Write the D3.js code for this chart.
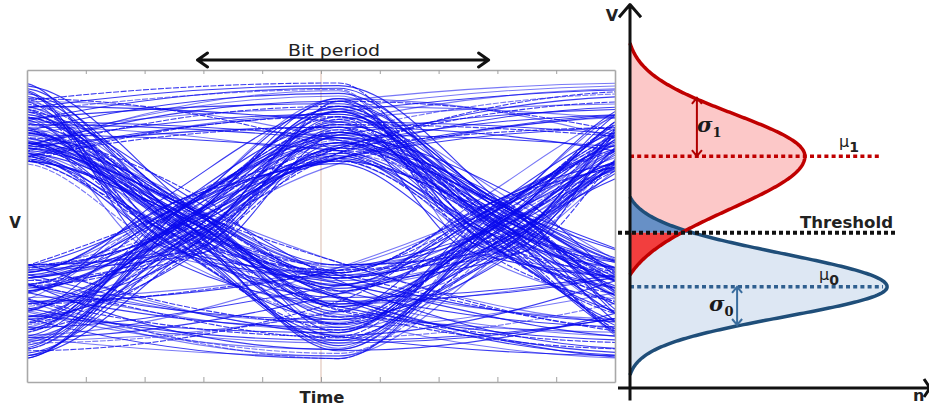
<!DOCTYPE html>
<html><head><meta charset="utf-8">
<script src="https://cdn.jsdelivr.net/npm/d3@7"></script>
<style>body{margin:0;background:#fff}svg{display:block}</style>
</head><body>
<svg id="c" width="929" height="409"></svg>
<script>
// ---------- Eye diagram data ----------
// received voltage at the centre of each successive bit (V)
const bitLevels = [
  0.84,-0.45,-0.80, 0.60, 0.96,-0.32, 0.72,-0.65,-0.95, 0.52, 0.88, 1.05,
 -0.36, 0.64,-0.55,-0.85, 0.76,-0.40, 0.56, 0.92,-0.70,-1.02, 0.48,-0.50,
  0.80, 0.68,-0.28,-0.75, 0.60, 1.00,-0.45, 0.84,-0.60, 0.52,-0.90,-0.65,
  0.72,-0.38, 0.96, 1.10,-0.55,-0.32, 0.64,-0.80, 0.88,-0.42,-0.95, 0.56,
 -0.70, 0.76, 0.52,-0.36,-0.85,-1.00, 0.68,-0.50, 0.92, 0.80,-0.30, 0.60,
 -0.62,-0.88, 0.48, 0.84,-0.40, 0.72,-0.75, 0.56, 1.04,-0.58,-0.34, 0.64,
 -0.92, 0.88,-0.46, 0.60, 0.76,-0.68,-0.82, 0.50,-0.38, 0.96,-0.55,-1.02,
  0.70, 0.58,-0.30, 0.82,-0.72, 0.54,-0.44,-0.86, 0.90, 1.08,-0.62, 0.66,
 -0.50,-0.78, 0.74,-0.36, 0.52, 0.86,-0.96,-0.58, 0.62,-0.40, 0.98,-0.70,
  0.56,-0.84,-0.32, 0.78, 0.66,-0.52, 0.90,-0.64,-0.90, 0.50,-0.46, 0.72,
  1.02,-0.38,-0.74, 0.58,-0.60, 0.82, 0.94,-0.28,-0.80, 0.68,-0.54,-0.98,
  0.62, 0.86,-0.42, 0.74,-0.88,-0.66, 0.54,-0.34, 0.80, 1.06,-0.76, 0.60,
 -0.48, 0.92,-0.60,-0.36, 0.70,-0.94, 0.52, 0.76,-0.44,-0.72, 0.88,-0.30,
  0.64,-0.82, 0.98, 0.58,-0.56,-1.00, 0.84,-0.40, 0.50,-0.66, 0.78,-0.86,
 -0.52, 0.70, 0.90,-0.34, 0.60,-0.78,-0.46, 0.96, 0.66,-0.62, 0.54,-0.92
];
// timing jitter of the edge leading into each bit (ps, bit period = 100 ps)
const edgeJitterPs = [
   4,-6, 2, 8,-2, 0,-8, 6,-4, 4,-2, 6,
  -6, 0, 8,-4, 2,-8, 4, 6, 0,-4, 8,-6,
   2, 4,-2, 6,-8, 0, 6, 2,-4, 8,-6,-2,
   4, 0, 8,-4,-8, 4, 6,-2, 0, 8,-6, 2,
  -4, 6, 2,-8, 0, 4,-2, 8, 2,-6, 6,-4,
   8, 0,-2,-6, 6, 2,-4, 4, 0,-8,-4, 6,
   4, 2,-8, 0, 6,-6, 8, 2, 0,-2,-6, 8,
   4,-4, 2, 6,-8, 4, 0,-2, 6,-6, 8, 0,
  -4, 8,-6, 2, 0, 6,-2, 4,-8, 2, 0,-4,
   6,-8, 4, 0, 8,-2,-6, 2, 4,-4, 6, 0,
  -2, 4, 8,-6, 2, 0,-4, 6,-8, 4, 2,-2,
   8,-4, 0, 4,-6, 2, 6,-8, 0, 4,-2, 6,
  -6, 2, 4,-4, 8, 0,-2, 6, 2,-8, 4, 0,
   2, 6,-4, 0,-6, 8, 4,-2, 0, 6,-8, 2,
  -2, 0, 6,-8, 4, 2,-6, 8,-4, 0, 2,-6
];
// voltage at which the edge leading into each bit crosses (V)
const edgeCrossV = [
  0.10,-0.05, 0.15,-0.15, 0.00, 0.20,-0.10, 0.05,-0.20, 0.10, 0.05,-0.05,
 -0.15, 0.20, 0.00,-0.10, 0.15,-0.20, 0.05, 0.10,-0.05, 0.00, 0.20,-0.15,
  0.05,-0.10, 0.20, 0.00,-0.15, 0.10,-0.05, 0.15,-0.20, 0.05, 0.00, 0.10,
 -0.20, 0.15,-0.05, 0.10, 0.00,-0.10, 0.20,-0.15, 0.05, 0.15,-0.05, 0.00,
  0.15,-0.20, 0.10, 0.05,-0.10, 0.00,-0.15, 0.20, 0.05,-0.05, 0.10,-0.20,
  0.00, 0.10,-0.15, 0.20,-0.05, 0.15, 0.05,-0.10, 0.00,-0.20, 0.15, 0.05,
 -0.10, 0.05, 0.15,-0.20, 0.10, 0.00,-0.05, 0.20,-0.15, 0.10,-0.10, 0.15,
  0.20,-0.15, 0.00, 0.05,-0.05, 0.10,-0.20, 0.15, 0.00,-0.10, 0.05,-0.05,
 -0.05, 0.15,-0.10, 0.00, 0.20,-0.15, 0.10,-0.20, 0.05, 0.15, 0.00,-0.10,
  0.10, 0.00,-0.20, 0.15,-0.10, 0.05, 0.20,-0.05, 0.10,-0.15, 0.00, 0.20,
 -0.15, 0.10, 0.05,-0.05, 0.15,-0.20, 0.00, 0.10,-0.10, 0.20,-0.05, 0.05,
  0.00,-0.10, 0.20,-0.15, 0.05, 0.10,-0.05, 0.00, 0.15,-0.20, 0.10,-0.15,
  0.15, 0.05,-0.05, 0.20,-0.20, 0.00, 0.10,-0.10, 0.05, 0.15,-0.15, 0.00,
 -0.20, 0.10, 0.00,-0.05, 0.15, 0.05,-0.15, 0.20,-0.10, 0.00, 0.05, 0.10,
  0.05,-0.15, 0.10, 0.00,-0.05, 0.20, 0.15,-0.20, 0.00, 0.10,-0.10, 0.05
];
const bitPeriodPs = 100;
const timeTicks = [0.1,0.2,0.3,0.4,0.5,0.6,0.7,0.8,0.9];
const bitPeriod = 0.54;          // in screen-time units (box = 1)
const firstBitCentre = -0.01;
const bitPeriodArrow = [0.29, 0.785];
const markerTime = 0.5;

// ---------- Distribution data ----------
const distNames = ["one","zero"];
const distMu = [0.644, 0.281];
const distSigmaUp = [0.117, 0.092];
const distSigmaDown = [0.147, 0.083];
const distPeak = [0.583, 0.857];
const distCutTop = [0.958, 0.531];
const distCutBottom = [0.314, 0.036];
const distMeanLineEnd = [0.84, 0.843];
const sigmaArrowN = [0.223, 0.357];
const sigmaArrowEnd = [0.806, 0.175];
const thresholdV = 0.431;
const thresholdSpan = [-0.04, 0.89];

const svg = d3.select("#c");
const FONT = "'DejaVu Sans', Verdana, sans-serif";

// ===== Eye diagram =====
const x = d3.scaleLinear().domain([0,1]).range([27,615]);
const y = d3.scaleLinear().domain([-1.2,1.2]).range([382,70]);

svg.append("defs").append("clipPath").attr("id","eyeclip")
  .append("rect").attr("x",x(0)).attr("y",y(1.2)).attr("width",x(1)-x(0)).attr("height",y(-1.2)-y(1.2));

svg.append("line").attr("x1",x(markerTime)).attr("x2",x(markerTime))
  .attr("y1",y(1.2)).attr("y2",y(-1.2)).attr("stroke","#e2c6bb").attr("stroke-width",1.2);

const traces = [];
for (let i = 0; i + 4 < bitLevels.length; i++) {
  const pts = [];
  for (let j = 0; j < 5; j++) {
    const k = i + j;
    const p = {t: firstBitCentre + (j - 1) * bitPeriod, v: bitLevels[k]};
    if (j > 0) {
      const prev = pts[pts.length - 1];
      if ((prev.v > 0) !== (p.v > 0))
        pts.push({t: p.t - bitPeriod / 2 + edgeJitterPs[k] / bitPeriodPs * bitPeriod, v: edgeCrossV[k]});
    }
    pts.push(p);
  }
  traces.push(pts);
}
const traceLine = d3.line().x(d=>x(d.t)).y(d=>y(d.v)).curve(d3.curveMonotoneX);
svg.append("g").attr("clip-path","url(#eyeclip)")
  .selectAll("path").data(traces).join("path")
  .attr("d",traceLine).attr("fill","none")
  .attr("stroke","#0a0aee").attr("stroke-width",1.1)
  .attr("stroke-opacity",(d,i)=> i%3===0 ? 0.55 : 0.8)
  .attr("stroke-dasharray",(d,i)=> i%4===1 ? "6,1.5" : null);

// box + ticks
const axTop = svg.append("g").attr("transform",`translate(0,${y(1.2)})`)
  .call(d3.axisBottom(x).tickValues(timeTicks).tickSize(4).tickFormat("").tickSizeOuter(0));
const axBot = svg.append("g").attr("transform",`translate(0,${y(-1.2)})`)
  .call(d3.axisTop(x).tickValues(timeTicks).tickSize(5).tickFormat("").tickSizeOuter(0));
[axTop, axBot].forEach(g=>{
  g.select(".domain").attr("stroke","#a8a8a8").attr("stroke-width",1.6);
  g.selectAll(".tick line").attr("stroke","#a0a0a0");
});
const axL = svg.append("g").attr("transform",`translate(${x(0)},0)`)
  .call(d3.axisLeft(y).tickValues([]).tickSizeOuter(0));
const axR = svg.append("g").attr("transform",`translate(${x(1)},0)`)
  .call(d3.axisRight(y).tickValues([]).tickSizeOuter(0));
[axL, axR].forEach(g=>g.select(".domain").attr("stroke","#a8a8a8").attr("stroke-width",1.6));

// bit period arrow
const ay = 60;
const ax0 = x(bitPeriodArrow[0]), ax1 = x(bitPeriodArrow[1]);
svg.append("path").attr("d",`M${ax0},${ay}H${ax1}M${ax0+10},${ay-7}L${ax0},${ay}L${ax0+10},${ay+7}M${ax1-10},${ay-7}L${ax1},${ay}L${ax1-10},${ay+7}`)
  .attr("fill","none").attr("stroke","#111").attr("stroke-width",3).attr("stroke-linecap","round").attr("stroke-linejoin","round");
svg.append("text").attr("x",(ax0+ax1)/2 - 9).attr("y",56).attr("text-anchor","middle")
  .attr("font-family",FONT).attr("font-size",15.5).attr("fill","#222")
  .attr("textLength",92).attr("lengthAdjust","spacingAndGlyphs").text("Bit period");
svg.append("text").attr("x",15).attr("y",228).attr("text-anchor","middle")
  .attr("font-family",FONT).attr("font-weight","bold").attr("font-size",15).attr("fill","#222").text("V");
svg.append("text").attr("x",322).attr("y",403).attr("text-anchor","middle")
  .attr("font-family",FONT).attr("font-weight","bold").attr("font-size",15).attr("fill","#222")
  .attr("textLength",45).attr("lengthAdjust","spacingAndGlyphs").text("Time");

// ===== Distributions =====
const vS = d3.scaleLinear().domain([0,1]).range([388,28]);
const nS = d3.scaleLinear().domain([0,1]).range([630,930]);

function density(k, v) {
  const d = v - distMu[k];
  const s = d > 0 ? distSigmaUp[k] : distSigmaDown[k];
  const c = d > 0 ? distCutTop[k] - distMu[k] : distMu[k] - distCutBottom[k];
  const g = Math.exp(-d*d/(2*s*s)), gc = Math.exp(-c*c/(2*s*s));
  return Math.max(0, distPeak[k] * (g - gc) / (1 - gc));
}
function samples(k, lo, hi) {
  const vs = d3.range(lo, hi, 0.002); vs.push(hi);
  return vs.map(v=>({v, n: density(k, v)}));
}
const area = d3.area().y(d=>vS(d.v)).x0(nS(0)).x1(d=>nS(d.n));
const curve = d3.line().y(d=>vS(d.v)).x(d=>nS(d.n));

const redAll = samples(0, distCutBottom[0], distCutTop[0]);
const blueAll = samples(1, distCutBottom[1], distCutTop[1]);
svg.append("path").attr("d",area(redAll)).attr("fill","#fcc8c8");
svg.append("path").attr("d",area(blueAll)).attr("fill","#dde7f3");
svg.append("path").attr("d",area(samples(1, thresholdV, distCutTop[1]))).attr("fill","#6790c6");
svg.append("path").attr("d",area(samples(0, distCutBottom[0], thresholdV))).attr("fill","#f23e3e");

// mean lines
const meanColors = ["#c00000","#2f5f8f"];
distMu.forEach((m,k)=>{
  svg.append("line").attr("x1",nS(0)).attr("x2",nS(distMeanLineEnd[k]))
    .attr("y1",vS(m)).attr("y2",vS(m))
    .attr("stroke",meanColors[k]).attr("stroke-width",3.5).attr("stroke-dasharray","4,3.2");
});

svg.append("path").attr("d",curve(blueAll)).attr("fill","none").attr("stroke","#1f4e79").attr("stroke-width",3.5);
svg.append("path").attr("d",curve(redAll)).attr("fill","none").attr("stroke","#c00000").attr("stroke-width",3.5);

// sigma arrows
const arrowColors = ["#b00000","#3a6d9e"];
sigmaArrowN.forEach((n,k)=>{
  const xx = nS(n), y0 = vS(distMu[k]), y1 = vS(sigmaArrowEnd[k]);
  const dir = y1 < y0 ? 1 : -1;
  svg.append("path")
    .attr("d",`M${xx},${y0}V${y1}M${xx-5},${y1+6*dir}L${xx},${y1}L${xx+5},${y1+6*dir}M${xx-5},${y0-6*dir}L${xx},${y0}L${xx+5},${y0-6*dir}`)
    .attr("fill","none").attr("stroke",arrowColors[k]).attr("stroke-width",2);
});

// threshold
svg.append("line").attr("x1",nS(thresholdSpan[0])).attr("x2",nS(thresholdSpan[1]))
  .attr("y1",vS(thresholdV)).attr("y2",vS(thresholdV))
  .attr("stroke","#111").attr("stroke-width",4).attr("stroke-dasharray","4,3");

// axes
const axX0 = nS(0);
svg.append("path").attr("d",`M${axX0},${vS(-0.035)}V${vS(1.065)}M${axX0-11},${vS(1.03)}L${axX0},${vS(1.065)}L${axX0+11},${vS(1.03)}`)
  .attr("fill","none").attr("stroke","#111").attr("stroke-width",3).attr("stroke-linejoin","round");
svg.append("path").attr("d",`M${nS(-0.04)},${vS(0)}H${nS(1.0)}M${nS(0.98)},${vS(0)-9}L${nS(1.0)},${vS(0)}L${nS(0.98)},${vS(0)+9}`)
  .attr("fill","none").attr("stroke","#111").attr("stroke-width",3);

svg.append("text").attr("x",612).attr("y",21).attr("text-anchor","middle")
  .attr("font-family",FONT).attr("font-weight","bold").attr("font-size",16).attr("fill","#222").text("V");
svg.append("text").attr("x",913).attr("y",401)
  .attr("font-family",FONT).attr("font-weight","bold").attr("font-size",16).attr("fill","#222").text("n");
svg.append("text").attr("x",800).attr("y",228)
  .attr("font-family",FONT).attr("font-weight","bold").attr("font-size",15).attr("fill","#222")
  .attr("textLength",93).attr("lengthAdjust","spacingAndGlyphs").text("Threshold");

// mu labels
function muLabel(xp, yp, sub) {
  const t = svg.append("text").attr("x",xp).attr("y",yp).attr("font-family",FONT).attr("fill","#222");
  t.append("tspan").attr("font-size",16).text("\u03bc");
  t.append("tspan").attr("font-size",14).attr("font-weight","bold").attr("dy",5).text(sub);
}
muLabel(839, 147, "1");
muLabel(819, 280, "0");
function sigmaLabel(xp, yp, sub) {
  const t = svg.append("text").attr("x",xp).attr("y",yp).attr("font-family","'DejaVu Serif', serif").attr("fill","#1a1a1a");
  t.append("tspan").attr("font-size",21).attr("font-weight","bold").attr("font-style","italic").text("\u03c3");
  t.append("tspan").attr("font-size",13).attr("font-weight","bold").attr("dy",5).text(sub);
}
sigmaLabel(697, 132, "1");
sigmaLabel(709, 311, "0");
</script>
</body></html>
